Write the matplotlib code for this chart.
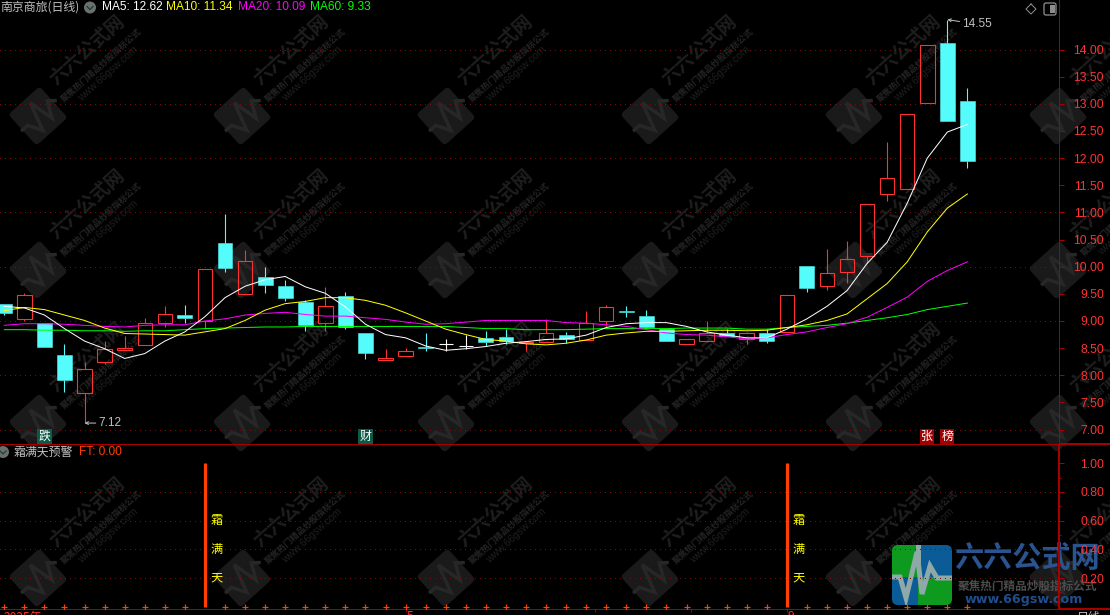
import numpy as np
import matplotlib
matplotlib.use('Agg')
import matplotlib.pyplot as plt
from matplotlib.patches import FancyBboxPatch, Rectangle
from matplotlib.transforms import Affine2D

plt.rcParams['font.family'] = ['Noto Sans CJK SC', 'DejaVu Sans']
plt.rcParams['axes.unicode_minus'] = False

# K线数据 (从图上读出来的估计值)
opens = [9.31, 9.03, 8.97, 8.38, 7.68, 8.25, 8.47, 8.55, 8.97, 9.11, 9.00, 10.43, 9.49, 9.81, 9.64, 9.35, 8.97,
         9.46, 8.78, 8.28, 8.35, 8.53, 8.58, 8.54, 8.69, 8.70, 8.59, 8.61, 8.74, 8.65, 9.00, 9.18, 9.09, 8.85,
         8.58, 8.64, 8.77, 8.67, 8.77, 8.80, 10.01, 9.65, 9.91, 10.19, 11.33, 11.44, 13.01, 14.12, 13.06]
closes = [9.15, 9.47, 8.52, 7.92, 8.12, 8.49, 8.50, 8.97, 9.12, 9.06, 9.95, 9.98, 10.10, 9.66, 9.42, 8.92, 9.28,
          8.89, 8.41, 8.32, 8.45, 8.50, 8.58, 8.54, 8.62, 8.63, 8.62, 8.78, 8.66, 8.97, 9.25, 9.17, 8.89, 8.63,
          8.67, 8.77, 8.72, 8.77, 8.63, 9.48, 9.61, 9.89, 10.15, 11.16, 11.64, 12.81, 14.08, 12.69, 11.94]
highs = [9.31, 9.51, 8.97, 8.57, 8.24, 8.63, 8.72, 9.05, 9.27, 9.29, 9.95, 10.97, 10.30, 10.00, 9.75, 9.38, 9.62,
         9.53, 8.78, 8.48, 8.51, 8.77, 8.66, 8.75, 8.81, 8.85, 8.62, 9.04, 8.79, 9.18, 9.29, 9.27, 9.20, 8.85,
         8.67, 9.00, 8.86, 8.80, 8.85, 9.48, 10.01, 10.32, 10.47, 11.16, 12.29, 12.81, 14.08, 14.55, 13.29]
lows = [9.11, 9.00, 8.52, 7.69, 7.12, 8.21, 8.47, 8.55, 8.89, 8.96, 8.86, 9.90, 9.49, 9.51, 9.36, 8.81, 8.81,
        8.85, 8.30, 8.28, 8.35, 8.45, 8.45, 8.49, 8.54, 8.57, 8.45, 8.61, 8.59, 8.65, 8.91, 9.07, 8.85, 8.63,
        8.58, 8.61, 8.72, 8.57, 8.60, 8.80, 9.53, 9.57, 9.70, 10.06, 11.21, 11.44, 13.01, 12.69, 11.81]

ma5 = [9.27, 9.24, 9.11, 8.86, 8.63, 8.49, 8.31, 8.40, 8.63, 8.80, 9.08, 9.43, 9.64, 9.76, 9.82, 9.63, 9.51,
       9.26, 8.94, 8.75, 8.69, 8.54, 8.46, 8.49, 8.53, 8.59, 8.62, 8.66, 8.67, 8.74, 8.88, 8.95, 8.97, 8.97,
       8.90, 8.80, 8.74, 8.69, 8.69, 8.85, 9.04, 9.27, 9.56, 10.06, 10.45, 11.17, 12.00, 12.48, 12.62]
ma10 = [9.19, 9.25, 9.21, 9.11, 9.01, 8.87, 8.77, 8.76, 8.75, 8.74, 8.80, 8.86, 9.01, 9.20, 9.32, 9.36, 9.43,
        9.43, 9.38, 9.29, 9.15, 9.00, 8.85, 8.75, 8.66, 8.63, 8.58, 8.56, 8.59, 8.65, 8.74, 8.78, 8.81, 8.81,
        8.82, 8.83, 8.83, 8.82, 8.83, 8.88, 8.93, 9.01, 9.13, 9.41, 9.69, 10.09, 10.64, 11.08, 11.34]
ma20 = [8.92, 8.95, 8.95, 8.94, 8.92, 8.90, 8.89, 8.92, 8.93, 8.93, 9.00, 9.04, 9.11, 9.14, 9.16, 9.12, 9.09,
        9.09, 9.06, 9.03, 8.98, 8.94, 8.95, 8.98, 9.01, 9.01, 9.01, 9.01, 8.97, 8.96, 8.93, 8.90, 8.84, 8.78,
        8.75, 8.74, 8.71, 8.67, 8.69, 8.75, 8.80, 8.88, 8.95, 9.07, 9.25, 9.44, 9.73, 9.93, 10.09]
ma60 = [8.84, 8.84, 8.83, 8.83, 8.82, 8.82, 8.81, 8.82, 8.82, 8.84, 8.86, 8.87, 8.88, 8.89, 8.89, 8.90, 8.90,
        8.90, 8.90, 8.90, 8.90, 8.90, 8.90, 8.88, 8.86, 8.86, 8.84, 8.84, 8.84, 8.85, 8.86, 8.86, 8.86, 8.86,
        8.87, 8.87, 8.87, 8.85, 8.85, 8.88, 8.90, 8.92, 8.96, 9.01, 9.06, 9.12, 9.21, 9.27, 9.33]

# 副图 FT 指标
ft = [0] * 49
ft[10] = 1
ft[39] = 1

price_ticks = [7.0, 7.5, 8.0, 8.5, 9.0, 9.5, 10.0, 10.5, 11.0, 11.5, 12.0, 12.5, 13.0, 13.5, 14.0]
ft_ticks = [0.2, 0.4, 0.6, 0.8, 1.0]
ma_names = ['MA5: 12.62', 'MA10: 11.34', 'MA20: 10.09', 'MA60: 9.33']
ma_colors = ['#FFFFFF', '#FFFF00', '#FF00FF', '#00FF00']

RED = '#FF3232'
CYAN = '#54FCFC'
AXIS_RED = '#A80000'
GRID_RED = '#7a0c0c'
ORANGE = '#FF4000'
GRAY = '#C0C0C0'
W = 1110
H = 615
X_RIGHT = 1059


def px(n):
    # 像素 -> 磅
    return n * 0.72


def draw_watermark(bg, cx, cy):
    # 斜着的水印: 圆角方块 + 心电线 + 三行字
    rot = Affine2D().rotate_deg_around(cx, cy, -42) + bg.transData
    side = 36
    box = FancyBboxPatch((cx - side / 2, cy - side / 2), side, side, boxstyle='round,pad=3,rounding_size=4',
                         fc='#1a1a1a', ec='none', transform=rot, zorder=1)
    bg.add_patch(box)
    line_x = np.array([-21, -14, -6, 3, 9, 17, 23]) + cx
    line_y = np.array([0, 0, 14, -15, 11, -5, 0]) + cy
    bg.plot(line_x, line_y, color='#272727', lw=px(3.5), transform=rot, zorder=2, solid_joinstyle='miter')
    bg.text(cx + 49, cy - 66, '六六公式网', color='#1e1e1e', fontsize=13.5, fontweight='bold', rotation=42,
            ha='center', va='center', rotation_mode='anchor', zorder=2)
    bg.text(cx + 63, cy - 51, '聚焦热门精品炒股指标公式', color='#242424', fontsize=6.3, fontweight='bold',
            rotation=42, ha='center', va='center', rotation_mode='anchor', zorder=2)
    bg.text(cx + 70, cy - 42, 'www.66gsw.com', color='#1f1f1f', fontsize=7.5, family='Liberation Sans', rotation=42,
            ha='center', va='center', rotation_mode='anchor', zorder=2)


def draw_icon(ax, cx, cy):
    # 标题旁边的小圆按钮
    ax.add_patch(plt.Circle((cx, cy), 6, fc='#6e6e6e', ec='none', zorder=5))
    ax.plot([cx - 3, cx, cx + 3], [cy - 1, cy + 2, cy - 1], color='#0c4a3c', lw=px(1.3), zorder=6)


def draw_logo(ax):
    # 右下角的六六公式网 logo
    clip = FancyBboxPatch((895, 548), 54, 54, boxstyle='round,pad=3,rounding_size=6', fc='none', ec='none',
                          transform=ax.transData)
    ax.add_patch(clip)
    parts = [(892, 545, 26, 32, '#0E9A1E'), (918, 545, 34, 32, '#0B5C96'),
             (892, 577, 26, 28, '#0B5C96'), (918, 577, 34, 28, '#0E9A1E')]
    for x, y, w, h, c in parts:
        r = Rectangle((x, y), w, h, fc=c, ec='none', zorder=7)
        ax.add_patch(r)
        r.set_clip_path(clip)
    l1, = ax.plot([918, 918], [545, 560], color='#8FA8A8', lw=px(5), zorder=8)
    l2, = ax.plot([892, 900, 906, 917, 922, 930, 937, 952], [577, 577, 598, 552, 594, 566, 578, 578],
                  color='#8FA8A8', lw=px(5), zorder=8, solid_joinstyle='miter')
    l1.set_clip_path(clip)
    l2.set_clip_path(clip)
    ax.text(1027, 558, '六六公式网', color='#2A5490', fontsize=21, fontweight='bold', ha='center', va='center', zorder=7)
    ax.text(1027, 586, '聚焦热门精品炒股指标公式', color='#4c4c4c', fontsize=8.4, fontweight='bold', ha='center',
            va='center', zorder=7)
    ax.text(1024, 600, 'www.66gsw.com', color='#1F4E8C', fontsize=9.2, fontweight='bold', family='DejaVu Sans',
            ha='center', va='center', zorder=7)


fig = plt.figure(figsize=(W / 100, H / 100), dpi=100, facecolor='black')

# 最底层: 水印
bg = fig.add_axes([0, 0, 1, 1], zorder=0)
bg.set_xlim(0, W)
bg.set_ylim(H, 0)
bg.axis('off')
for cy in [116, 270, 423, 578]:
    for cx in [38, 242, 446, 650, 854, 1058]:
        draw_watermark(bg, cx, cy)

# logo 放在坐标轴下面, 刻度字要压在它上面
mid = fig.add_axes([0, 0, 1, 1], zorder=1)
mid.set_xlim(0, W)
mid.set_ylim(H, 0)
mid.axis('off')
mid.patch.set_alpha(0)
draw_logo(mid)

# 主图
ax = fig.add_axes([0, (H - 443) / H, X_RIGHT / W, 443 / H], zorder=2)
ax2 = fig.add_axes([0, (H - 609.3) / H, X_RIGHT / W, 165.8 / H], zorder=2, sharex=ax)
for a in (ax, ax2):
    a.patch.set_alpha(0)
ax.set_xlim(-4.3 / 20.065, (X_RIGHT - 4.3) / 20.065)
ax.set_ylim(6.753, 14.912)
ax2.set_ylim(-0.018, 1.137)

x = np.arange(len(opens))
for i in x:
    o, c, h, l = opens[i], closes[i], highs[i], lows[i]
    body_top = max(o, c)
    body_bot = min(o, c)
    if c > o:
        ax.bar(i, body_top - body_bot, 0.72, bottom=body_bot, facecolor='none', edgecolor=RED, linewidth=px(1.1), zorder=3)
        color = RED
    elif c < o:
        ax.bar(i, body_top - body_bot, 0.74, bottom=body_bot, facecolor=CYAN, edgecolor=CYAN, linewidth=px(0.5), zorder=3)
        color = CYAN
    else:
        ax.hlines(o, i - 0.36, i + 0.36, color='#FFFFFF', lw=px(1.1), zorder=3)
        color = '#FFFFFF'
    ax.vlines(i, body_top, h, color=color, lw=px(1.1), zorder=2.5)
    ax.vlines(i, l, body_bot, color=color, lw=px(1.1), zorder=2.5)

for values, color in zip([ma60, ma20, ma10, ma5], ma_colors[::-1]):
    ax.plot(x, values, color=color, lw=px(1), zorder=4)

ax.annotate('14.55', xy=(47, 14.55), xytext=(15, -4.5), textcoords='offset pixels', color=GRAY, fontsize=8.6,
            family='Liberation Sans', va='center', zorder=5,
            arrowprops=dict(arrowstyle='->', color=GRAY, lw=px(1), mutation_scale=5, shrinkA=0, shrinkB=0))
ax.annotate('7.12', xy=(4, 7.12), xytext=(14, 0), textcoords='offset pixels', color=GRAY, fontsize=8.6,
            family='Liberation Sans', va='center', zorder=5,
            arrowprops=dict(arrowstyle='->', color=GRAY, lw=px(1), mutation_scale=5, shrinkA=0, shrinkB=0))

# 网格
ax.hlines([t for t in price_ticks if t == int(t)], ax.get_xlim()[0], ax.get_xlim()[1], color=GRID_RED,
          lw=px(1), linestyles=(0, (1, 5)), zorder=1, antialiased=False)
ax2.hlines(ft_ticks[:-1], ax.get_xlim()[0], ax.get_xlim()[1], color=GRID_RED, lw=px(1),
           linestyles=(0, (1, 5)), zorder=1, antialiased=False)

# 副图信号
zero_x = [i for i in x if ft[i] == 0]
signal_x = [i for i in x if ft[i] > 0]
ax2.vlines(signal_x, 0, [ft[i] for i in signal_x], color=ORANGE, lw=px(3.2), zorder=4)
ax2.scatter(zero_x, [ft[i] for i in zero_x], marker='+', s=14, color=ORANGE, linewidths=px(1.2), zorder=4)
for i in signal_x:
    for word, level in zip('霜满天', [0.6, 0.4, 0.2]):
        ax2.annotate(word, xy=(i, level), xytext=(12, 0), textcoords='offset pixels', color='#FFFF00', fontsize=8.8,
                     ha='center', va='center', zorder=5)

# 跌 / 财 / 张榜 标记
for i, word, fc in [(2, '跌', '#0D5A46'), (18, '财', '#0D5A46'), (46, '张', '#A00000'), (47, '榜', '#A00000')]:
    ax.text(i, 7.0 - 0.13, word, color='#FFFFFF', fontsize=8.6, ha='center', va='center', zorder=5,
            bbox=dict(boxstyle='square,pad=0.1', fc=fc, ec='none'))

# 坐标轴
for a in (ax, ax2):
    a.spines['left'].set_visible(False)
    a.spines['top'].set_visible(False)
    for s in ['bottom', 'right']:
        a.spines[s].set_color(AXIS_RED)
        a.spines[s].set_linewidth(px(1))
    a.yaxis.tick_right()
ax.spines['bottom'].set_visible(False)
ax.tick_params(axis='x', bottom=False, labelbottom=False)
ax.set_yticks(price_ticks)
ax.set_yticklabels(['%.2f' % t for t in price_ticks], ha='right', color=RED, fontsize=8.8, family='Liberation Sans')
ax.tick_params(axis='y', length=px(5), width=px(1), color=AXIS_RED, pad=px(40))
ax2.set_yticks(ft_ticks)
ax2.set_yticklabels(['%.2f' % t for t in ft_ticks], ha='right', color=RED, fontsize=8.8, family='Liberation Sans')
ax2.set_yticks([0.1, 0.3, 0.5, 0.7, 0.9], minor=True)
ax2.tick_params(axis='y', length=px(5), width=px(1), color=AXIS_RED, pad=px(40))
ax2.tick_params(axis='y', which='minor', length=px(2.5), width=px(1), color=AXIS_RED)
ax2.set_xticks([20, 29.44, 34.2, 39])
ax2.tick_params(axis='x', length=px(3), width=px(1), color=AXIS_RED, labelbottom=False)

# 最上层: 标题, 按钮
top = fig.add_axes([0, 0, 1, 1], zorder=3)
top.set_xlim(0, W)
top.set_ylim(H, 0)
top.axis('off')
top.patch.set_alpha(0)
top.text(0, 7.5, '南京商旅(日线)', color=GRAY, fontsize=8.6, va='center')
draw_icon(top, 90, 7.5)
draw_icon(top, 3, 452)
for name, color, xpos in zip(ma_names, ma_colors, [101.5, 166.5, 238.5, 310.5]):
    top.text(xpos, 7.5, name, color=color, fontsize=8.6, va='center', family='Liberation Sans')
top.text(14, 452, '霜满天预警', color=GRAY, fontsize=8.6, va='center')
top.text(79, 452, 'FT: 0.00', color=ORANGE, fontsize=8.6, va='center', family='Liberation Sans')
top.plot([1031, 1036, 1031, 1026, 1031], [4, 9, 14, 9, 4], color='#8c8c8c', lw=px(1))
top.add_patch(FancyBboxPatch((1046, 5), 8, 8, boxstyle='round,pad=2,rounding_size=2', fc='none', ec='#8c8c8c', lw=px(1.3)))
top.add_patch(Rectangle((1050, 5), 5, 8, fc='#8c8c8c', ec='none'))
top.add_patch(Rectangle((X_RIGHT, 443.5), W - X_RIGHT + 3, 165.8, fc='none', ec=AXIS_RED, lw=px(2), zorder=4))
top.plot([0, W], [443.5, 443.5], color=AXIS_RED, lw=px(1), zorder=3)

# 日期文字, 只露出上半截
for label, xpos, color in [('2025年', 4, RED), ('5', 407, RED), ('9', 788, RED), ('日线', 1077, GRAY)]:
    top.text(xpos, 610.5, label, color=color, fontsize=8.6, va='top', clip_on=False)

fig.savefig('out.png', dpi=100, facecolor='black')
